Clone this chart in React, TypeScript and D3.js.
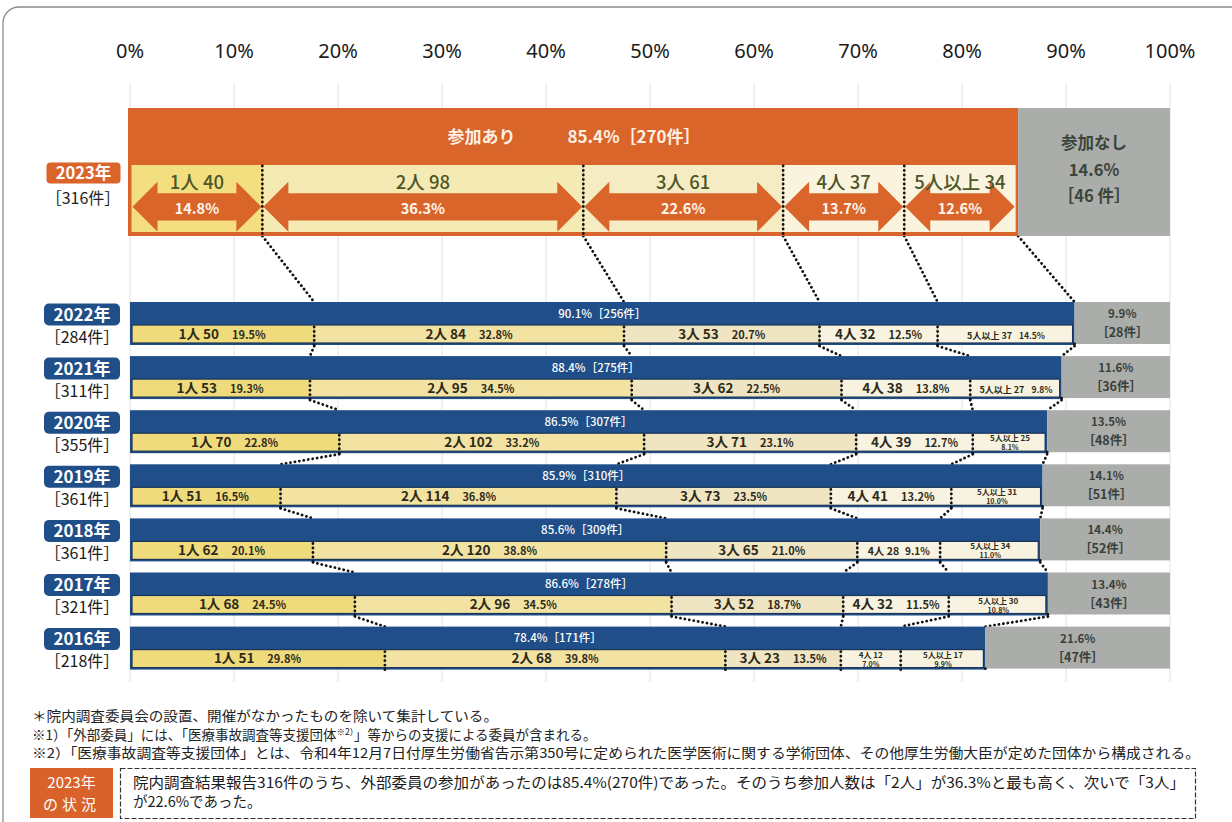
import React from "react";
import * as d3 from "d3";

// ---------- data ----------
const TICKS = [0, 10, 20, 30, 40, 50, 60, 70, 80, 90, 100];
const PEOPLE = ["1人", "2人", "3人", "4人", "5人以上"];

const CUR_YEAR = "2023年";
const CUR_TOTAL = 316;
const CUR_YES_PCT = 85.4;
const CUR_YES_N = 270;
const CUR_NO_PCT = 14.6;
const CUR_NO_N = 46;
const CUR_COUNTS = [40, 98, 61, 37, 34];
const CUR_SHARES = [14.8, 36.3, 22.6, 13.7, 12.6];

const YEARS = ["2022年", "2021年", "2020年", "2019年", "2018年", "2017年", "2016年"];
const TOTALS = [284, 311, 355, 361, 361, 321, 218];
const YES_PCT = [90.1, 88.4, 86.5, 85.9, 85.6, 86.6, 78.4];
const YES_N = [256, 275, 307, 310, 309, 278, 171];
const NO_PCT = [9.9, 11.6, 13.5, 14.1, 14.4, 13.4, 21.6];
const NO_N = [28, 36, 48, 51, 52, 43, 47];
const COUNTS = [
  [50, 84, 53, 32, 37],
  [53, 95, 62, 38, 27],
  [70, 102, 71, 39, 25],
  [51, 114, 73, 41, 31],
  [62, 120, 65, 28, 34],
  [68, 96, 52, 32, 30],
  [51, 68, 23, 12, 17],
];
const SHARES = [
  [19.5, 32.8, 20.7, 12.5, 14.5],
  [19.3, 34.5, 22.5, 13.8, 9.8],
  [22.8, 33.2, 23.1, 12.7, 8.1],
  [16.5, 36.8, 23.5, 13.2, 10.0],
  [20.1, 38.8, 21.0, 9.1, 11.0],
  [24.5, 34.5, 18.7, 11.5, 10.8],
  [29.8, 39.8, 13.5, 7.0, 9.9],
];

const NOTE1 = "＊院内調査委員会の設置、開催がなかったものを除いて集計している。";
const NOTE2A = "※1）「外部委員」には、「医療事故調査等支援団体";
const NOTE2SUP = "※2）";
const NOTE2B = "」等からの支援による委員が含まれる。";
const NOTE3 =
  "※2）「医療事故調査等支援団体」とは、令和4年12月7日付厚生労働省告示第350号に定められた医学医術に関する学術団体、その他厚生労働大臣が定めた団体から構成される。";
const SUMMARY1 =
  "院内調査結果報告316件のうち、外部委員の参加があったのは85.4%(270件)であった。そのうち参加人数は「2人」が36.3%と最も高く、次いで「3人」";
const SUMMARY2 = "が22.6%であった。";

// ---------- styles ----------
const FONT = "'Noto Sans CJK JP', 'Noto Sans', sans-serif";
const ORANGE = "#d9652b";
const NAVY = "#1f4e88";
const GRAY = "#abadab";
const SEG_TOP = ["#f3df7f", "#f5eab4", "#f6ecc4", "#faf4de", "#faf4de"];
const SEG_LOW = ["#efdb7c", "#f2e3a2", "#f0e5c2", "#f8f3e0", "#f8f3e0"];

const W = 1232;
const H = 822;

const xTop = d3.scaleLinear().domain([0, 100]).range([130, 1170]);
const xEnd = d3.scaleLinear().domain([0, 100]).range([388, 1150]);

const TOP_Y0 = 108;
const TOP_Y1 = 236;
const STRIP_Y0 = 165;
const STRIP_Y1 = 232;

const ROW0 = 302;
const ROW_STEP = 54.1;
const ROW_H = 43;

const dotStyle = {
  stroke: "#111",
  strokeWidth: 2.8,
  strokeDasharray: "0.1 4.4",
  strokeLinecap: "round" as const,
  fill: "none",
};

function arrowPath(x0: number, x1: number, cy: number) {
  const Hh = 25;
  const h = 13.6;
  const L = Math.min(25, (x1 - x0) / 2 - 2);
  return `M${x0},${cy} L${x0 + L},${cy - Hh} L${x0 + L},${cy - h} L${x1 - L},${cy - h} L${x1 - L},${cy - Hh} L${x1},${cy} L${x1 - L},${cy + Hh} L${x1 - L},${cy + h} L${x0 + L},${cy + h} L${x0 + L},${cy + Hh} Z`;
}

function bounds(shares: number[], x0: number, x1: number) {
  const sum = d3.sum(shares);
  const s = d3.scaleLinear().domain([0, sum]).range([x0, x1]);
  const cum = [0, ...d3.cumsum(shares)];
  return cum.map((c) => s(c));
}

function SegLabel({ k, count, share, x0, x1, cy }: any) {
  const w = x1 - x0;
  const cx = (x0 + x1) / 2;
  const cStr = `${PEOPLE[k]} ${count}`;
  const pStr = `${share.toFixed(1)}%`;
  let mode: string;
  if (k === 4) mode = w >= 110 || (w >= 88 && share < 10) ? "tiny" : "stack";
  else mode = w >= 100 ? "normal" : w >= 70 ? "small" : "stack";
  const fill = "#2e2a1a";
  if (mode === "stack") {
    return (
      <g fontFamily={FONT} fontWeight={700} fill={fill} textAnchor="middle">
        <text x={cx} y={cy - 1} fontSize={8}>
          {cStr}
        </text>
        <text x={cx} y={cy + 8} fontSize={7}>
          {pStr}
        </text>
      </g>
    );
  }
  const a = mode === "normal" ? 13.5 : mode === "small" ? 10.5 : 9;
  const b = mode === "normal" ? 11 : mode === "small" ? 10 : 8.5;
  const gap = mode === "normal" ? 13 : mode === "small" ? 6 : 7;
  return (
    <text x={cx} y={cy + 4.5} textAnchor="middle" fontFamily={FONT} fontWeight={700} fill={fill}>
      <tspan fontSize={a}>{cStr}</tspan>
      <tspan fontSize={b} dx={gap}>
        {pStr}
      </tspan>
    </text>
  );
}

export default function App() {
  const curEnd = xTop(CUR_YES_PCT);
  const curB = bounds(CUR_SHARES, xTop(0) + 1.5, curEnd - 2.5);
  const rows = YEARS.map((yr, i) => {
    const top = ROW0 + i * ROW_STEP;
    const end = xEnd(YES_PCT[i]);
    const b = bounds(SHARES[i], xTop(0), end);
    return { yr, i, top, end, b };
  });

  // connectors (divider to divider, end to end)
  const connectors: any[] = [];
  const firstRow = rows[0];
  for (let k = 1; k <= 5; k++) {
    const xa = k === 5 ? curEnd : curB[k];
    const xb = firstRow.b[k];
    connectors.push([xa, TOP_Y1, xb, firstRow.top]);
  }
  for (let i = 0; i < rows.length - 1; i++) {
    const r = rows[i];
    const n = rows[i + 1];
    for (let k = 1; k <= 5; k++) {
      connectors.push([r.b[k], r.top + ROW_H + 1, n.b[k], n.top]);
    }
  }

  return (
    <svg
      width={W}
      height={H}
      viewBox={`0 0 ${W} ${H}`}
      style={{ position: "absolute", left: 0, top: 0, background: "#fff" }}
    >
      <rect x={0} y={0} width={W} height={H} fill="#fff" />
      {/* outer frame */}
      <rect x={3} y={7} width={1262} height={850} rx={16} fill="none" stroke="#8c8c8c" strokeWidth={1.3} />

      {/* axis labels */}
      {TICKS.map((t) => (
        <text
          key={"t" + t}
          x={xTop(t)}
          y={58}
          textAnchor="middle"
          fontFamily="'Noto Sans', sans-serif"
          fontSize={20}
          fill="#1a1a1a"
        >
          {t}%
        </text>
      ))}
      {/* grid */}
      {TICKS.map((t) => (
        <line key={"g" + t} x1={xTop(t)} x2={xTop(t)} y1={83} y2={682} stroke="#e2e2e2" strokeWidth={1} />
      ))}

      {/* connectors */}
      {connectors.map((c, j) => (
        <line key={"c" + j} x1={c[0]} y1={c[1]} x2={c[2]} y2={c[3]} {...dotStyle} />
      ))}

      {/* ===== 2023 ===== */}
      <rect x={xTop(0) - 2} y={TOP_Y0} width={curEnd - xTop(0) + 2} height={TOP_Y1 - TOP_Y0} fill={ORANGE} />
      <rect x={curEnd} y={TOP_Y0} width={xTop(100) - curEnd} height={TOP_Y1 - TOP_Y0} fill={GRAY} />
      {CUR_SHARES.map((s, k) => (
        <rect
          key={"cs" + k}
          x={curB[k]}
          y={STRIP_Y0}
          width={curB[k + 1] - curB[k]}
          height={STRIP_Y1 - STRIP_Y0}
          fill={SEG_TOP[k]}
        />
      ))}
      {CUR_SHARES.map((s, k) => (
        <path key={"ca" + k} d={arrowPath(curB[k] + 1, curB[k + 1] - 1, 206.8)} fill={ORANGE} />
      ))}
      {curB.slice(1, 5).map((x, k) => (
        <line key={"cd" + k} x1={x} x2={x} y1={STRIP_Y0 + 1} y2={TOP_Y1} {...dotStyle} />
      ))}
      {CUR_SHARES.map((s, k) => (
        <g key={"cl" + k}>
          <text
            x={(curB[k] + curB[k + 1]) / 2}
            y={189}
            textAnchor="middle"
            fontFamily={FONT}
            fontSize={18.5}
            fontWeight={500}
            fill="#4c5628"
          >
            {`${PEOPLE[k]} ${CUR_COUNTS[k]}`}
          </text>
          <text
            x={(curB[k] + curB[k + 1]) / 2}
            y={213.5}
            textAnchor="middle"
            fontFamily={FONT}
            fontSize={14.5}
            fontWeight={700}
            fill="#fff6ec"
          >
            {`${s.toFixed(1)}%`}
          </text>
        </g>
      ))}
      <text
        x={(xTop(0) + curEnd) / 2}
        y={143}
        textAnchor="middle"
        fontFamily={FONT}
        fontSize={17}
        fontWeight={700}
        fill="#fdf0e2"
      >
        <tspan>参加あり</tspan>
        <tspan dx={52}>{`${CUR_YES_PCT.toFixed(1)}%［${CUR_YES_N}件］`}</tspan>
      </text>
      {["参加なし", `${CUR_NO_PCT.toFixed(1)}%`, `［${CUR_NO_N} 件］`].map((t, j) => (
        <text
          key={"cn" + j}
          x={(curEnd + xTop(100)) / 2}
          y={149 + j * 26.5}
          textAnchor="middle"
          fontFamily={FONT}
          fontSize={16.5}
          fontWeight={700}
          fill="#3b453b"
        >
          {t}
        </text>
      ))}
      <rect x={46.5} y={162.5} width={74} height={21} rx={4} fill={ORANGE} />
      <text x={83.5} y={179} textAnchor="middle" fontFamily={FONT} fontSize={16.5} fontWeight={700} fill="#fff">
        {CUR_YEAR}
      </text>
      <text x={83} y={204} textAnchor="middle" fontFamily={FONT} fontSize={16} fill="#222">
        {`［${CUR_TOTAL}件］`}
      </text>

      {/* ===== 2016-2022 ===== */}
      {rows.map((r) => {
        const i = r.i;
        const x0 = xTop(0);
        const sy0 = r.top + 23;
        const sy1 = r.top + 41;
        return (
          <g key={"row" + i}>
            <rect x={x0} y={r.top} width={r.end - x0} height={ROW_H} fill={NAVY} />
            <rect x={r.end} y={r.top} width={xTop(100) - r.end} height={ROW_H - 1} fill={GRAY} />
            {SHARES[i].map((s, k) => (
              <rect
                key={"s" + k}
                x={k === 0 ? r.b[k] + 2 : r.b[k]}
                y={sy0}
                width={r.b[k + 1] - r.b[k] - (k === 0 ? 2 : 0) - (k === 4 ? 2 : 0)}
                height={sy1 - sy0}
                fill={SEG_LOW[k]}
              />
            ))}
            <rect
              x={x0 + 2}
              y={sy0}
              width={r.end - x0 - 4}
              height={sy1 - sy0}
              fill="none"
              stroke="#1a3558"
              strokeWidth={1.2}
            />
            {r.b.slice(1, 5).map((x, k) => (
              <line key={"d" + k} x1={x} x2={x} y1={sy0 + 2} y2={r.top + ROW_H + 1} {...dotStyle} />
            ))}
            <line x1={r.end} x2={r.end} y1={r.top + ROW_H - 1} y2={r.top + ROW_H + 1} {...dotStyle} />
            <text
              x={(x0 + r.end) / 2}
              y={r.top + 15.5}
              textAnchor="middle"
              fontFamily={FONT}
              fontSize={11.5}
              fontWeight={500}
              fill="#fff"
            >
              {`${YES_PCT[i].toFixed(1)}%［${YES_N[i]}件］`}
            </text>
            {SHARES[i].map((s, k) => (
              <SegLabel
                key={"l" + k}
                k={k}
                count={COUNTS[i][k]}
                share={s}
                x0={r.b[k]}
                x1={r.b[k + 1]}
                cy={(sy0 + sy1) / 2}
              />
            ))}
            <text
              x={(r.end + xTop(100)) / 2}
              y={r.top + 16}
              textAnchor="middle"
              fontFamily={FONT}
              fontSize={11.5}
              fontWeight={700}
              fill="#3a3f3a"
            >
              {`${NO_PCT[i].toFixed(1)}%`}
            </text>
            <text
              x={(r.end + xTop(100)) / 2}
              y={r.top + 35}
              textAnchor="middle"
              fontFamily={FONT}
              fontSize={12.5}
              fontWeight={700}
              fill="#3a3f3a"
            >
              {`［${NO_N[i]}件］`}
            </text>
            <rect x={44} y={r.top + 1.5} width={76} height={22} rx={5} fill={NAVY} />
            <text
              x={82}
              y={r.top + 18.5}
              textAnchor="middle"
              fontFamily={FONT}
              fontSize={17}
              fontWeight={700}
              fill="#fff"
            >
              {r.yr}
            </text>
            <text x={82} y={r.top + 40.5} textAnchor="middle" fontFamily={FONT} fontSize={16} fill="#1a1a1a">
              {`［${TOTALS[i]}件］`}
            </text>
          </g>
        );
      })}

      {/* ===== notes ===== */}
      <text x={32} y={721} fontFamily={FONT} fontSize={13.5} fill="#222" textLength={466} lengthAdjust="spacingAndGlyphs">
        {NOTE1}
      </text>
      <text x={32} y={740} fontFamily={FONT} fontSize={13.5} fill="#222">
        <tspan>{NOTE2A}</tspan>
        <tspan fontSize={8.5} dy={-5}>
          {NOTE2SUP}
        </tspan>
        <tspan dy={5}>{NOTE2B}</tspan>
      </text>
      <text x={32} y={758} fontFamily={FONT} fontSize={13.5} fill="#222" textLength={1168} lengthAdjust="spacingAndGlyphs">
        {NOTE3}
      </text>

      <rect x={30} y={768} width={83} height={50} fill="#d8622a" />
      <text x={71.5} y={788} textAnchor="middle" fontFamily={FONT} fontSize={15} fill="#fff">
        2023年
      </text>
      <text x={71.5} y={810} textAnchor="middle" fontFamily={FONT} fontSize={15} fill="#fff" letterSpacing={4}>
        の状況
      </text>
      <rect x={120.5} y={768.5} width={1075} height={50} fill="none" stroke="#333" strokeWidth={1.2} strokeDasharray="5 2" />
      <text x={133} y={788} fontFamily={FONT} fontSize={14.5} fill="#1a1a1a" textLength={1052} lengthAdjust="spacingAndGlyphs">
        {SUMMARY1}
      </text>
      <text x={133} y={807} fontFamily={FONT} fontSize={14.5} fill="#1a1a1a">
        {SUMMARY2}
      </text>
    </svg>
  );
}
